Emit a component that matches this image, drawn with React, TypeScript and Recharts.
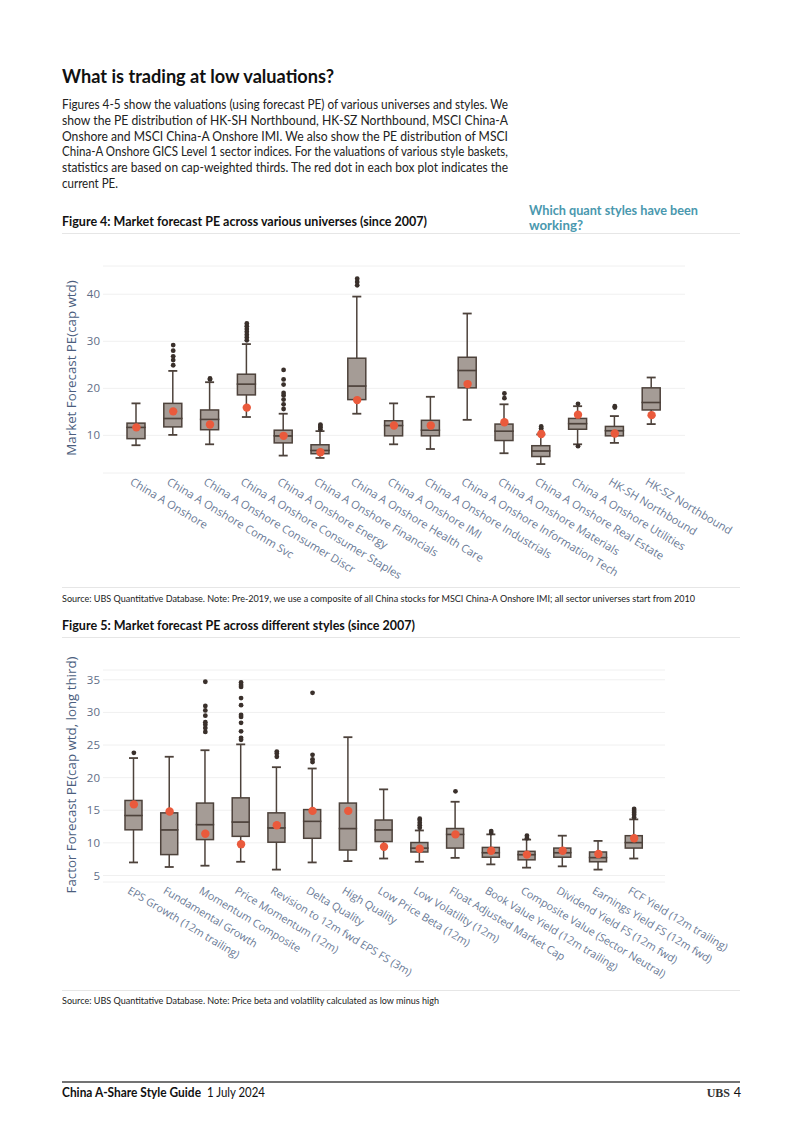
import React from 'react';
import { ComposedChart, Bar, Line, XAxis, YAxis, CartesianGrid } from 'recharts';

// Figure 4: market forecast PE across universes
const universes = [
  'China A Onshore',
  'China A Onshore Comm Svc',
  'China A Onshore Consumer Discr',
  'China A Onshore Consumer Staples',
  'China A Onshore Energy',
  'China A Onshore Financials',
  'China A Onshore Health Care',
  'China A Onshore IMI',
  'China A Onshore Industrials',
  'China A Onshore Information Tech',
  'China A Onshore Materials',
  'China A Onshore Real Estate',
  'China A Onshore Utilities',
  'HK-SH Northbound',
  'HK-SZ Northbound',
];
const uniLow = [7.9, 10.1, 8.1, 13.9, 5.7, 5.2, 14.6, 8.1, 7.1, 13.3, 6.2, 3.9, 8.1, 8.4, 12.4];
const uniQ1 = [9.3, 11.8, 11.2, 18.6, 8.4, 6.1, 17.6, 9.9, 9.9, 20.1, 8.9, 5.5, 11.3, 9.9, 15.4];
const uniMedian = [11.7, 13.6, 13.4, 20.9, 9.9, 6.8, 20.5, 12.1, 11.1, 23.8, 10.9, 6.7, 12.5, 11.0, 17.0];
const uniQ3 = [12.6, 16.8, 15.4, 23.0, 11.1, 8.0, 26.4, 13.1, 13.2, 26.6, 12.4, 7.8, 13.6, 11.9, 20.1];
const uniHigh = [16.8, 23.7, 21.3, 29.4, 14.6, 10.9, 39.5, 16.8, 18.2, 35.9, 16.6, 10.2, 16.2, 14.1, 22.3];
const uniCurrent = [11.7, 15.1, 12.3, 15.9, 9.9, 6.4, 17.5, 12.1, 12.1, 20.9, 12.8, 10.3, 14.4, 10.4, 14.3];
const uniOutliers = [
  [],
  [24.9, 26.0, 26.8, 28.0, 29.2],
  [21.9, 22.1],
  [30.2, 30.8, 31.4, 32.0, 32.6, 33.2, 33.8],
  [15.6, 16.6, 17.6, 18.5, 19.0, 20.8, 21.9, 23.9],
  [11.3, 11.7, 12.0, 12.3],
  [41.9, 42.6, 43.3],
  [],
  [],
  [],
  [17.9, 18.9],
  [11.0, 11.5, 11.9],
  [16.7, 7.7],
  [15.9, 16.2],
  [],
];
const uniTicks = [10, 20, 30, 40];

// Figure 5: market forecast PE across styles (long third)
const styles = [
  'EPS Growth (12m trailing)',
  'Fundamental Growth',
  'Momentum Composite',
  'Price Momentum (12m)',
  'Revision to 12m fwd EPS FS (3m)',
  'Delta Quality',
  'High Quality',
  'Low Price Beta (12m)',
  'Low Volatility (12m)',
  'Float Adjusted Market Cap',
  'Book Value Yield (12m trailing)',
  'Composite Value (Sector Neutral)',
  'Dividend Yield FS (12m fwd)',
  'Earnings Yield FS (12m fwd)',
  'FCF Yield (12m trailing)',
];
const styLow = [7.0, 6.3, 6.5, 7.1, 5.9, 7.0, 7.2, 7.6, 7.1, 7.7, 6.7, 6.2, 6.4, 5.9, 7.6];
const styQ1 = [12.0, 8.2, 10.5, 11.0, 10.1, 10.7, 8.9, 10.2, 8.6, 9.2, 7.8, 7.4, 7.8, 7.1, 9.2];
const styMedian = [14.2, 12.0, 12.8, 13.2, 12.3, 13.3, 12.2, 12.0, 9.2, 11.3, 8.5, 8.2, 8.5, 7.75, 10.05];
const styQ3 = [16.5, 14.6, 16.1, 16.9, 14.6, 15.1, 16.1, 13.5, 10.05, 12.2, 9.3, 8.7, 9.2, 8.6, 11.1];
const styHigh = [23.0, 23.2, 24.2, 25.1, 21.6, 21.4, 26.2, 18.2, 11.9, 16.3, 11.3, 10.5, 11.1, 10.3, 13.6];
const styCurrent = [15.9, 14.8, 11.4, 9.8, 12.7, 14.9, 14.9, 9.4, 9.1, 11.3, 8.8, 8.2, 8.8, 8.3, 10.7];
const styOutliers = [
  [23.8],
  [],
  [27.0, 27.6, 28.1, 28.5, 29.5, 30.3, 31.0, 34.7],
  [25.8, 26.1, 27.1, 28.4, 29.3, 29.6, 31.1, 32.2, 33.9, 34.2, 34.6],
  [23.2, 23.7, 24.0],
  [22.4, 22.8, 23.5, 33.0],
  [],
  [],
  [12.3, 12.7, 13.1, 13.5, 13.7],
  [17.9],
  [11.5, 11.8],
  [10.7, 11.1],
  [],
  [],
  [13.9, 14.3, 14.6, 14.9, 15.2],
];
const styTicks = [5, 10, 15, 20, 25, 30, 35];

// page copy, one entry per printed line
const introLines = [
  'Figures 4-5 show the valuations (using forecast PE) of various universes and styles. We',
  'show the PE distribution of HK-SH Northbound, HK-SZ Northbound, MSCI China-A',
  'Onshore and MSCI China-A Onshore IMI. We also show the PE distribution of MSCI',
  'China-A Onshore GICS Level 1 sector indices. For the valuations of various style baskets,',
  'statistics are based on cap-weighted thirds. The red dot in each box plot indicates the',
  'current PE.',
];

const BOX = '#a59c96';
const EDGE = '#4d423b';
const OUT = '#3a302b';
const RED = '#ea5a3c';
const AXIS_TXT = '#6a7a96';
const TEXT_FONT = "Lato, 'Open Sans', sans-serif";
const CHART_FONT = "'Open Sans', 'Noto Sans', sans-serif";

function buildRows(cats: string[], low: number[], q1: number[], med: number[], q3: number[], high: number[], cur: number[], outs: number[][]) {
  return cats.map((name, i) => {
    const row: any = {
      name,
      base: low[i],
      lowW: q1[i] - low[i],
      boxLo: med[i] - q1[i],
      boxHi: q3[i] - med[i],
      highW: high[i] - q3[i],
      current: cur[i],
    };
    outs[i].forEach((v, j) => {
      row['o' + j] = v;
    });
    return row;
  });
}

const WhiskerLow = (p: any) => {
  const { x, y, width, height } = p;
  const cx = x + width / 2;
  return (
    <g>
      <line x1={cx} x2={cx} y1={y} y2={y + height} stroke={EDGE} strokeWidth={1.5} />
      <line x1={cx - 4.5} x2={cx + 4.5} y1={y + height} y2={y + height} stroke={EDGE} strokeWidth={1.8} />
    </g>
  );
};

const WhiskerHigh = (p: any) => {
  const { x, y, width, height } = p;
  const cx = x + width / 2;
  return (
    <g>
      <line x1={cx} x2={cx} y1={y} y2={y + height} stroke={EDGE} strokeWidth={1.5} />
      <line x1={cx - 4.5} x2={cx + 4.5} y1={y} y2={y} stroke={EDGE} strokeWidth={1.8} />
    </g>
  );
};

const BoxPart = (p: any) => (
  <rect x={p.x} y={p.y} width={p.width} height={p.height} fill={BOX} stroke={EDGE} strokeWidth={1.5} />
);

const outlierDot = (p: any) =>
  p.value == null || p.cy == null ? (
    <g key={`${p.dataKey}-${p.index}`} />
  ) : (
    <circle key={`${p.dataKey}-${p.index}`} cx={p.cx} cy={p.cy} r={2.4} fill={OUT} />
  );

const currentDot = (p: any) =>
  p.value == null || p.cy == null ? (
    <g key={`cur-${p.index}`} />
  ) : (
    <circle key={`cur-${p.index}`} cx={p.cx} cy={p.cy} r={4.2} fill={RED} />
  );

const SlantTick = (p: any) => {
  const { x, y, payload, fontSize } = p;
  return (
    <text
      x={x - 3}
      y={y}
      dy="0.72em"
      transform={`rotate(31 ${x - 3} ${y})`}
      textAnchor="start"
      fontSize={fontSize}
      fill={AXIS_TXT}
      fontFamily={CHART_FONT}
    >
      {payload.value}
    </text>
  );
};

interface BoxChartProps {
  rows: any[];
  outlierCount: number;
  width: number;
  height: number;
  margin: { top: number; right: number; bottom: number; left: number };
  domain: [number, number];
  ticks: number[];
  padding: { left: number; right: number };
  xHeight: number;
  barSize: number;
  labelSize: number;
}

function BoxChart({ rows, outlierCount, width, height, margin, domain, ticks, padding, xHeight, barSize, labelSize }: BoxChartProps) {
  const keys = Array.from({ length: outlierCount }, (_, j) => 'o' + j);
  return (
    <ComposedChart width={width} height={height} data={rows} margin={margin}>
      <CartesianGrid vertical={false} stroke="#f0f0f0" strokeWidth={1} />
      <XAxis
        dataKey="name"
        interval={0}
        axisLine={false}
        tickLine={false}
        tickSize={0}
        tickMargin={4}
        height={xHeight}
        padding={padding}
        tick={<SlantTick fontSize={labelSize} />}
      />
      <YAxis
        domain={domain}
        ticks={ticks}
        allowDataOverflow
        axisLine={false}
        tickLine={false}
        tickSize={0}
        tickMargin={3}
        width={20}
        tick={{ fontSize: 11.5, fill: '#5f6d86', fontFamily: CHART_FONT }}
      />
      <Bar dataKey="base" stackId="b" fill="none" barSize={barSize} isAnimationActive={false} />
      <Bar dataKey="lowW" stackId="b" barSize={barSize} shape={<WhiskerLow />} isAnimationActive={false} />
      <Bar dataKey="boxLo" stackId="b" barSize={barSize} shape={<BoxPart />} isAnimationActive={false} />
      <Bar dataKey="boxHi" stackId="b" barSize={barSize} shape={<BoxPart />} isAnimationActive={false} />
      <Bar dataKey="highW" stackId="b" barSize={barSize} shape={<WhiskerHigh />} isAnimationActive={false} />
      {keys.map((k) => (
        <Line
          key={k}
          dataKey={k}
          stroke="none"
          dot={outlierDot}
          activeDot={false}
          legendType="none"
          isAnimationActive={false}
        />
      ))}
      <Line dataKey="current" stroke="none" dot={currentDot} activeDot={false} legendType="none" isAnimationActive={false} />
    </ComposedChart>
  );
}

const abs = (left: number, top: number, extra: React.CSSProperties = {}): React.CSSProperties => ({
  position: 'absolute',
  left,
  top,
  ...extra,
});

// a single printed line squeezed to the width it has in the original layout
const Fit = ({ x, y, w, size, bold, fill = '#111', children }: any) => (
  <text
    x={x}
    y={y}
    fontSize={size}
    fontWeight={bold ? 700 : 400}
    fill={fill}
    textLength={w}
    lengthAdjust="spacingAndGlyphs"
  >
    {children}
  </text>
);

export default function App() {
  const uniRows = buildRows(universes, uniLow, uniQ1, uniMedian, uniQ3, uniHigh, uniCurrent, uniOutliers);
  const styRows = buildRows(styles, styLow, styQ1, styMedian, styQ3, styHigh, styCurrent, styOutliers);
  const uniMax = Math.max(...uniOutliers.map((o) => o.length));
  const styMax = Math.max(...styOutliers.map((o) => o.length));

  return (
    <div style={{ position: 'absolute', left: 0, top: 0, width: 802, height: 1134, background: '#fff', overflow: 'hidden' }}>
      <style>{'.recharts-surface{overflow:visible}'}</style>

      <div style={abs(0, 256)}>
        <BoxChart
          rows={uniRows}
          outlierCount={uniMax}
          width={802}
          height={330}
          margin={{ top: 10, right: 117, bottom: 0, left: 83 }}
          domain={[2, 46]}
          ticks={uniTicks}
          padding={{ left: 15, right: 15 }}
          xHeight={113}
          barSize={18}
          labelSize={11.2}
        />
      </div>
      <div style={abs(0, 660)}>
        <BoxChart
          rows={styRows}
          outlierCount={styMax}
          width={802}
          height={325}
          margin={{ top: 10, right: 137, bottom: 0, left: 83 }}
          domain={[4, 36.5]}
          ticks={styTicks}
          padding={{ left: 13, right: 13 }}
          xHeight={103}
          barSize={17}
          labelSize={10.8}
        />
      </div>

      <svg width={802} height={1134} style={abs(0, 0, { pointerEvents: 'none' })} fontFamily={TEXT_FONT}>
        <Fit x={62} y={83} w={272} size={18.5} bold>What is trading at low valuations?</Fit>
        {introLines.map((line, i) => (
          <Fit key={i} x={62} y={109 + i * 15.8} w={i < introLines.length - 1 ? 446 : 56} size={12.6} fill="#222">
            {line}
          </Fit>
        ))}

        <Fit x={62} y={226} w={365} size={12.6} bold>Figure 4: Market forecast PE across various universes (since 2007)</Fit>
        <Fit x={529} y={215} w={169} size={13} bold fill="#4a98ae">Which quant styles have been</Fit>
        <Fit x={529} y={230} w={54} size={13} bold fill="#4a98ae">working?</Fit>
        <line x1={62} x2={740} y1={233.5} y2={233.5} stroke="#e6e6e6" />

        <text
          x={72}
          y={368}
          transform="rotate(-90 72 368)"
          textAnchor="middle"
          dominantBaseline="middle"
          fontSize={13.3}
          fill="#4b5e7e"
          fontFamily={CHART_FONT}
        >
          Market Forecast PE(cap wtd)
        </text>

        <line x1={62} x2={740} y1={587.5} y2={587.5} stroke="#e6e6e6" />
        <Fit x={62} y={602} w={633} size={9.5} fill="#222">
          Source: UBS Quantitative Database. Note: Pre-2019, we use a composite of all China stocks for MSCI China-A Onshore IMI; all sector universes start from 2010
        </Fit>

        <Fit x={62} y={630} w={353} size={12.6} bold>Figure 5: Market forecast PE across different styles (since 2007)</Fit>
        <line x1={62} x2={740} y1={637.5} y2={637.5} stroke="#e6e6e6" />

        <text
          x={72}
          y={775}
          transform="rotate(-90 72 775)"
          textAnchor="middle"
          dominantBaseline="middle"
          fontSize={13.3}
          fill="#4b5e7e"
          fontFamily={CHART_FONT}
        >
          Factor Forecast PE(cap wtd, long third)
        </text>

        <line x1={62} x2={740} y1={990.5} y2={990.5} stroke="#e6e6e6" />
        <Fit x={62} y={1004} w={377} size={9.5} fill="#222">
          Source: UBS Quantitative Database. Note: Price beta and volatility calculated as low minus high
        </Fit>

        <line x1={62} x2={740} y1={1082} y2={1082} stroke="#444" strokeWidth={1.4} />
        <Fit x={62} y={1097} w={139} size={12.6} bold>China A-Share Style Guide</Fit>
        <Fit x={207} y={1097} w={58} size={12.6}>1 July 2024</Fit>
        <text x={730} y={1097} fontSize={12} fontWeight={700} textAnchor="end" fill="#333" fontFamily="'Liberation Serif', serif">UBS</text>
        <text x={741} y={1097} fontSize={12.6} textAnchor="end" fill="#111">4</text>
      </svg>
    </div>
  );
}
